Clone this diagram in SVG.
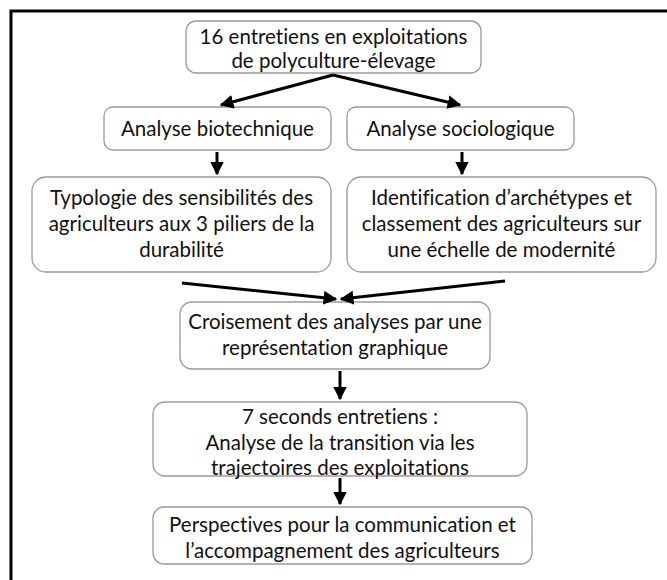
<svg xmlns="http://www.w3.org/2000/svg" width="667" height="580" viewBox="0 0 667 580">
<defs>
<marker id="ah" viewBox="0 0 10 10" refX="9" refY="5" markerWidth="4.6" markerHeight="4.6" orient="auto" markerUnits="strokeWidth">
<path d="M0,0 L10,5 L0,10 z" fill="#000"/>
</marker>
<style>
.box{fill:#fff;stroke:#9a9a9a;stroke-width:1.3}
.t{font-family:Lato,"Liberation Sans",sans-serif;font-size:20.5px;fill:#111;text-anchor:middle;font-variant-ligatures:none}
.c{stroke:#000;stroke-width:3;fill:none;marker-end:url(#ah)}
</style>
</defs>
<rect x="11" y="11" width="700" height="620" fill="#fff" stroke="#000" stroke-width="3"/>
<g id="n1"><rect class="box" x="186" y="21" width="295" height="52" rx="10"/>
<text class="t" x="333.5" y="44">16 entretiens en exploitations</text>
<text class="t" x="333.5" y="68">de polyculture-élevage</text></g>
<g id="n2"><rect class="box" x="104" y="107" width="227" height="43" rx="9"/>
<text class="t" x="217.5" y="136">Analyse biotechnique</text></g>
<g id="n3"><rect class="box" x="347" y="107" width="227" height="43" rx="9"/>
<text class="t" x="460.5" y="136">Analyse sociologique</text></g>
<g id="n4"><rect class="box" x="32" y="177" width="299" height="95" rx="14"/>
<text class="t" x="181.5" y="205">Typologie des sensibilités des</text>
<text class="t" x="181.5" y="231">agriculteurs aux 3 piliers de la</text>
<text class="t" x="181.5" y="257">durabilité</text></g>
<g id="n5"><rect class="box" x="347" y="177" width="309" height="95" rx="14"/>
<text class="t" x="501.5" y="205">Identification d’archétypes et</text>
<text class="t" x="501.5" y="231">classement des agriculteurs sur</text>
<text class="t" x="501.5" y="257">une échelle de modernité</text></g>
<g id="n6"><rect class="box" x="180" y="302" width="310" height="67" rx="12"/>
<text class="t" x="335" y="329">Croisement des analyses par une</text>
<text class="t" x="335" y="355">représentation graphique</text></g>
<g id="n7"><rect class="box" x="153" y="402" width="374" height="74" rx="12"/>
<text class="t" x="340" y="424">7 seconds entretiens :</text>
<text class="t" x="340" y="450">Analyse de la transition via les</text>
<text class="t" x="340" y="475">trajectoires des exploitations</text></g>
<g id="n8"><rect class="box" x="153" y="507" width="379" height="57" rx="11"/>
<text class="t" x="342.5" y="532">Perspectives pour la communication et</text>
<text class="t" x="342.5" y="558">l’accompagnement des agriculteurs</text></g>
<g id="connectors">
<line class="c" x1="333" y1="75" x2="221" y2="105"/>
<line class="c" x1="333" y1="75" x2="460" y2="105"/>
<line class="c" x1="217" y1="152" x2="217" y2="174"/>
<line class="c" x1="462" y1="152" x2="462" y2="174"/>
<line class="c" x1="182" y1="283" x2="336" y2="299"/>
<line class="c" x1="505" y1="281" x2="341" y2="299"/>
<line class="c" x1="340" y1="371" x2="340" y2="399"/>
<line class="c" x1="340" y1="478" x2="340" y2="504"/>
</g>
</svg>
